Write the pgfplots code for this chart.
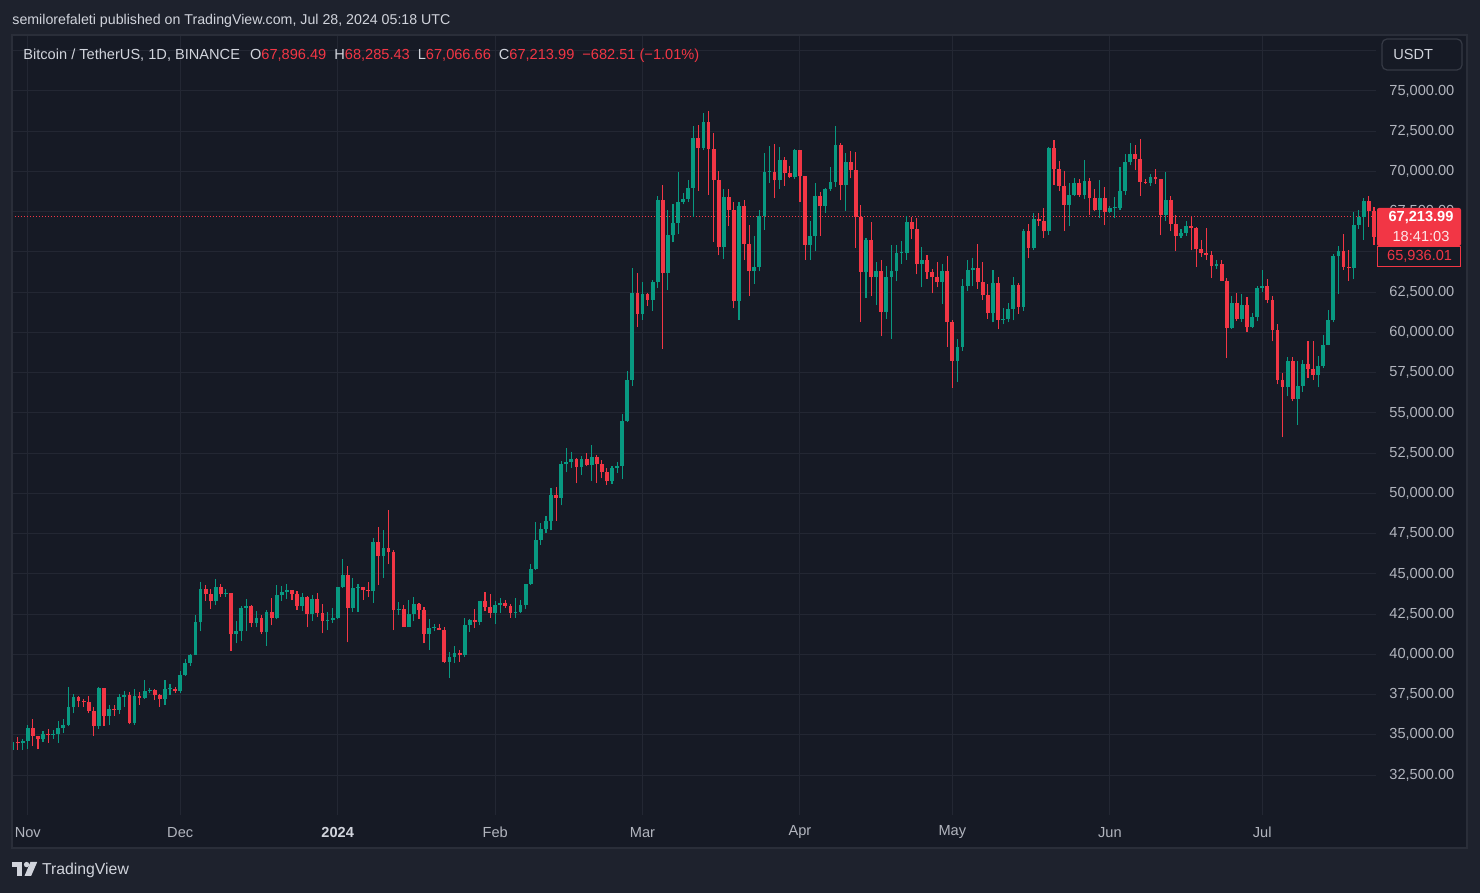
\documentclass[border=0pt]{standalone}
\usepackage{fontspec}
\setmainfont{Liberation Sans}
\usepackage{pgfplots}
\usepackage{pgfplotstable}
\pgfplotsset{compat=1.18}
\definecolor{outerbg}{HTML}{1E222D}
\definecolor{panelbg}{HTML}{161A25}
\definecolor{gridc}{HTML}{232733}
\definecolor{borderc}{HTML}{2A2E39}
\definecolor{btnc}{HTML}{363A45}
\definecolor{upc}{HTML}{089981}
\definecolor{downc}{HTML}{F23645}
\definecolor{txt}{HTML}{B2B5BE}
\definecolor{txtw}{HTML}{D1D4DC}
\newcommand{\fs}{\fontsize{7.3}{8.5}\selectfont}

\pgfplotstableread{
d O H L C
-3 34080 34770 33950 34525
-2 34525 34880 34080 34475
-1 34475 34720 34080 34640
0 34640 35580 34100 35420
1 35420 35985 34330 34940
2 34940 34945 34100 34720
3 34720 35260 34580 35080
4 35080 35380 34520 35020
5 35020 35270 34740 35040
6 35040 35890 34520 35420
7 35420 35980 35120 35630
8 35630 37970 35530 36700
9 36700 37530 36330 37320
10 37320 37410 36710 37130
11 37130 37230 36750 37060
12 37060 37420 36340 36490
13 36490 36760 34950 35540
14 35540 37990 35360 37880
15 37880 37930 35550 36160
16 36160 36850 35610 36600
17 36600 36840 36200 36570
18 36570 37540 36300 37360
19 37360 37750 36730 37450
20 37450 37650 35650 35740
21 35740 37860 35630 37410
22 37410 37650 36870 37280
23 37280 38420 37250 37720
24 37720 37890 37590 37800
25 37800 37830 37150 37450
26 37450 37560 36750 37240
27 37240 38380 36870 37830
28 37830 38150 37500 37850
29 37850 38000 37590 37720
30 37720 38990 37600 38690
31 38690 39680 38650 39470
32 39470 40000 39280 39970
33 39970 42420 39960 41980
34 41980 44490 41420 44080
35 44080 44280 43330 43750
36 43750 44050 42820 43290
37 43290 44700 43080 44170
38 44170 44370 43580 43720
39 43720 44040 43580 43790
40 43790 43800 40220 41240
41 41240 42100 40680 41450
42 41450 43000 40830 42890
43 42890 43420 41420 43020
44 43020 43090 41670 41940
45 41940 42720 41680 42280
46 42280 42420 41250 41370
47 41370 42750 40520 42660
48 42660 43480 41800 42270
49 42270 44280 42180 43670
50 43670 44240 43330 43860
51 43860 44400 43410 43990
52 43990 44020 43350 43740
53 43740 43950 42750 43020
54 43020 43800 42720 43580
55 43580 43600 41680 42520
56 42520 43690 42100 43440
57 43440 43800 42320 42580
58 42580 43120 41300 42070
59 42070 42600 41520 42140
60 42140 42900 41970 42280
61 42280 44180 42180 44180
62 44180 45900 44150 44960
63 44960 45500 40750 42850
64 42850 44730 42630 44150
65 44150 44340 42620 44160
66 44160 44190 43400 43970
67 43970 44490 43570 43930
68 43930 47250 43200 46970
69 46970 47890 44300 46110
70 46110 47700 44750 46630
71 46630 48970 45600 46340
72 46340 46500 41500 42780
73 42780 43260 42440 42840
74 42840 43080 41720 41730
75 41730 43400 41720 42510
76 42510 43580 42050 43140
77 43140 43200 42200 42770
78 42770 42930 40680 41270
79 41270 42200 40280 41620
80 41620 41870 41430 41660
81 41660 41880 41500 41540
82 41540 41680 39450 39500
83 39500 40130 38550 39850
84 39850 40500 39480 40080
85 40080 40300 39550 39930
86 39930 42250 39820 41820
87 41820 42200 41400 42120
88 42120 42840 41620 42030
89 42030 43300 41800 43300
90 43300 43880 42680 42950
91 42950 43750 42270 42580
92 42580 43290 41880 43080
93 43080 43490 42570 43190
94 43190 43380 42890 42990
95 42990 43120 42260 42580
96 42580 43500 42260 42660
97 42660 43400 42580 43090
98 43090 44380 42790 44340
99 44340 45600 44330 45290
100 45290 48200 45240 47130
101 47130 48170 46800 47760
102 47760 48590 47550 48300
103 48300 50330 47700 49920
104 49920 50370 48300 49700
105 49700 52040 49260 51800
106 51800 52820 51300 51940
107 51940 52580 51570 52130
108 52130 52190 50620 51650
109 51650 52350 51170 52140
110 52140 52490 51680 51780
111 51780 52980 50760 52280
112 52280 52370 50630 51850
113 51850 52080 50930 51300
114 51300 51550 50520 50740
115 50740 51700 50580 51570
116 51570 51950 51280 51730
117 51730 54940 50900 54480
118 54480 57590 54450 57040
119 57040 64000 56690 62430
120 62430 63680 60360 61130
121 61130 63110 60780 62390
122 62390 62430 61660 62030
123 62030 63230 61320 63130
124 63130 68500 62770 68250
125 68250 69170 59000 63720
126 63720 67600 62650 66070
127 66070 67980 65590 66810
128 66810 69990 66100 68120
129 68120 68680 67950 68310
130 68310 69500 68100 68960
131 68960 72800 67200 72100
132 72100 72900 68800 71450
133 71450 73650 71330 73070
134 73070 73780 68550 71390
135 71390 72420 65630 69500
136 69500 70040 64780 65300
137 65300 68900 64550 68390
138 68390 68920 66600 67610
139 67610 68120 61500 61940
140 61940 68100 60780 67840
141 67840 68240 64530 65500
142 65500 66650 62260 63800
143 63800 65990 63000 64060
144 64060 67620 63800 67230
145 67230 71150 66380 69960
146 69960 71560 69280 69990
147 69990 71730 68380 69450
148 69450 71550 68900 70740
149 70740 70920 69100 69890
150 69890 70350 69570 69640
151 69640 71370 69560 71330
152 71330 71340 68100 69700
153 69700 69710 64500 65460
154 65460 66900 64490 65960
155 65960 69290 65060 68490
156 68490 68720 66000 67840
157 67840 69000 67440 68900
158 68900 70300 68800 69360
159 69360 72800 69040 71620
160 71620 71760 68210 69140
161 69140 71170 67520 70590
162 70590 71260 69570 70060
163 70060 71230 65250 67200
164 67200 67930 60660 63770
165 63770 65840 62130 65740
166 65740 66870 62270 63460
167 63460 64360 61700 63800
168 63800 64500 59770 61280
169 61280 64130 60830 63470
170 63470 65450 59600 63820
171 63820 65420 63170 64940
172 64940 65700 64280 64940
173 64940 67230 64500 66840
174 66840 67200 65800 66410
175 66410 67080 63600 64280
176 64280 65280 62800 64500
177 64500 64790 63320 63770
178 63770 63920 62420 63460
179 63460 64360 62800 63120
180 63120 64230 61760 63840
181 63840 64730 59100 60640
182 60640 60780 56550 58250
183 58250 59600 56940 59120
184 59120 63320 58850 62890
185 62890 64500 62580 63890
186 63890 64650 62880 64030
187 64030 65500 62700 63160
188 63160 64400 62020 62310
189 62310 63020 60850 61190
190 61190 63850 60630 63070
191 63070 63470 60190 60790
192 60790 61490 60500 60820
193 60820 61820 60630 61480
194 61480 63450 60750 62940
195 62940 63100 61150 61580
196 61580 66450 61330 66270
197 66270 66740 64600 65230
198 65230 67450 65120 67050
199 67050 67400 66600 66940
200 66940 67700 65860 66270
201 66270 71510 66060 71450
202 71450 71980 69160 70140
203 70140 70660 68800 69120
204 69120 70040 66310 67930
205 67930 69260 66600 68530
206 68530 69570 68470 69290
207 69290 69540 68430 68510
208 68510 70690 68270 69390
209 69390 69600 67280 68360
210 68360 68940 67540 67630
211 67630 69500 67100 68350
212 68350 69020 66670 67490
213 67490 67860 67440 67710
214 67710 68430 67120 67750
215 67750 70280 67610 68800
216 68800 71060 68560 70570
217 70570 71760 70380 71080
218 71080 71620 70120 70760
219 70760 71990 68500 69340
220 69340 69550 69210 69310
221 69310 69850 69120 69650
222 69650 70150 69230 69510
223 69510 69560 66050 67320
224 67320 69990 66900 68240
225 68240 68450 66300 66750
226 66750 67300 65070 66010
227 66010 66400 65850 66190
228 66190 66950 66020 66640
229 66640 67190 65100 66490
230 66490 66560 64060 65160
231 65160 65730 64690 64960
232 64960 66480 64530 64830
233 64830 65070 63380 64100
234 64100 64530 63940 64250
235 64250 64490 63180 63180
236 63180 63370 58400 60280
237 60280 62290 60240 61810
238 61810 62480 60700 60860
239 60860 62390 60640 61680
240 61680 62200 60030 60330
241 60330 61200 60300 60950
242 60950 62890 60680 62780
243 62780 63860 62500 62900
244 62900 63290 61800 62040
245 62040 62280 59440 60170
246 60170 60500 56770 57040
247 57040 57500 53480 56630
248 56630 58480 56020 58230
249 58230 58470 55720 55850
250 55850 58240 54260 56700
251 56700 58300 56300 58050
252 58050 59470 57150 57730
253 57730 59450 57050 57340
254 57340 58530 56590 57900
255 57900 59850 57760 59230
256 59230 61420 59200 60790
257 60790 64900 60630 64720
258 64720 65390 62400 65040
259 65040 66130 63900 64080
260 64080 65100 63220 63990
261 63990 67480 63300 66660
262 66660 67600 66440 67140
263 67140 68380 65750 68170
264 68170 68480 66570 67550
265 67550 67810 65440 65930
}\btc

\begin{document}
\begin{tikzpicture}[x=1pt,y=1pt]
% backgrounds (1 px = 0.5 pt)
\fill[outerbg] (0,0) rectangle (740,446.5);
\fill[panelbg] (6,22.5) rectangle (733.5,429);

\begin{axis}[
  at={(6pt,39pt)}, anchor=south west,
  scale only axis, width=682pt, height=390pt,
  xmin=-3.11, xmax=265.39, ymin=30020, ymax=78479,
  axis line style={draw=none},
  major tick length=0pt,
  tick style={draw=none},
  grid=major,
  major grid style={draw=gridc, line width=0.5pt},
  xtick={0,30,61,92,121,152,182,213,243},
  xticklabels={Nov,Dec,{\bfseries\color{txtw}2024},Feb,Mar,Apr,May,Jun,Jul},
  xticklabel style={font=\fs, text=txt, anchor=center, yshift=-8.6pt},
  ytick={32500,35000,...,75000},
  extra y ticks={77500}, extra y tick labels={},
  extra y tick style={grid=major},
  yticklabel pos=right,
  scaled y ticks=false,
  yticklabel style={font=\fs, text=txt, anchor=west, inner sep=0pt, xshift=6.5pt,
    /pgf/number format/.cd, fixed, fixed zerofill, precision=2, 1000 sep={,}, assume math mode=true},
]
% current price line
\addplot[downc, line width=0.6pt, dash pattern=on 0.6pt off 0.9pt, forget plot]
  coordinates {(-3.11,67213.99) (265.39,67213.99)};
% wicks up
\addplot[draw=none, forget plot,
  restrict expr to domain={\thisrow{C}-\thisrow{O}}{0:100000},
  error bars/.cd, y dir=plus, y explicit, error mark=none,
  error bar style={draw=upc, line width=0.55pt}]
  table[x=d, y=L, y error plus expr={\thisrow{H}-\thisrow{L}}] {\btc};
% wicks down
\addplot[draw=none, forget plot,
  restrict expr to domain={\thisrow{O}-\thisrow{C}}{0.5:100000},
  error bars/.cd, y dir=plus, y explicit, error mark=none,
  error bar style={draw=downc, line width=0.55pt}]
  table[x=d, y=L, y error plus expr={\thisrow{H}-\thisrow{L}}] {\btc};
% bodies up
\addplot[draw=none, forget plot,
  restrict expr to domain={\thisrow{C}-\thisrow{O}}{0:100000},
  error bars/.cd, y dir=plus, y explicit, error mark=none,
  error bar style={draw=upc, line width=1.9pt}]
  table[x=d, y=O, y error plus expr={max(\thisrow{C}-\thisrow{O},60)}] {\btc};
% bodies down
\addplot[draw=none, forget plot,
  restrict expr to domain={\thisrow{O}-\thisrow{C}}{0.5:100000},
  error bars/.cd, y dir=plus, y explicit, error mark=none,
  error bar style={draw=downc, line width=1.9pt}]
  table[x=d, y=C, y error plus expr={max(\thisrow{O}-\thisrow{C},60)}] {\btc};
\end{axis}

% panel border
\draw[borderc, line width=1pt] (6,22.5) rectangle (733.5,429);

% header
\node[anchor=west, inner sep=0pt, font=\fontsize{7.1}{8}\selectfont, text=txtw] at (6,436)
  {semilorefaleti published on TradingView.com, Jul 28, 2024 05:18 UTC};
% legend line
\node[anchor=west, inner sep=0pt, font=\fs, text=txtw] at (11.5,418.6)
  {Bitcoin / TetherUS, 1D, BINANCE\hspace{5pt}O{\color{downc}67,896.49}\hspace{4pt}H{\color{downc}68,285.43}\hspace{4pt}L{\color{downc}67,066.66}\hspace{4pt}C{\color{downc}67,213.99}\hspace{4pt}{\color{downc}−682.51 (−1.01\%)}};

% USDT button
\draw[draw=btnc, fill=panelbg, rounded corners=2.5pt, line width=0.6pt] (691,427) rectangle (731,411.5);
\node[anchor=west, inner sep=0pt, font=\fs, text=txtw] at (696.5,419.2) {USDT};

% price labels
\fill[downc, rounded corners=1pt] (688.5,342.5) rectangle (730.5,323.5);
\node[inner sep=0pt, font=\fs\bfseries, text=white] at (710.5,337.8) {67,213.99};
\node[inner sep=0pt, font=\fs, text=white!88!downc] at (710.5,328.3) {18:41:03};
\draw[downc, fill=panelbg, line width=0.5pt] (688.75,323.2) rectangle (730.2,313.2);
\node[inner sep=0pt, font=\fs, text=downc] at (709.8,318.2) {65,936.01};

% TradingView logo
\fill[txtw] (6,15.5) rectangle (11,12.8);
\fill[txtw] (8.5,15.5) rectangle (11,8.6);
\fill[txtw] (13.3,14.2) circle (1.35);
\fill[txtw] (15.2,15.5) -- (18.6,15.5) -- (15.6,8.6) -- (12.3,8.6) -- cycle;
\node[anchor=west, inner sep=0pt, font=\fontsize{7.9}{9}\selectfont, text=txtw] at (20.8,11.3) {TradingView};
\end{tikzpicture}
\end{document}
